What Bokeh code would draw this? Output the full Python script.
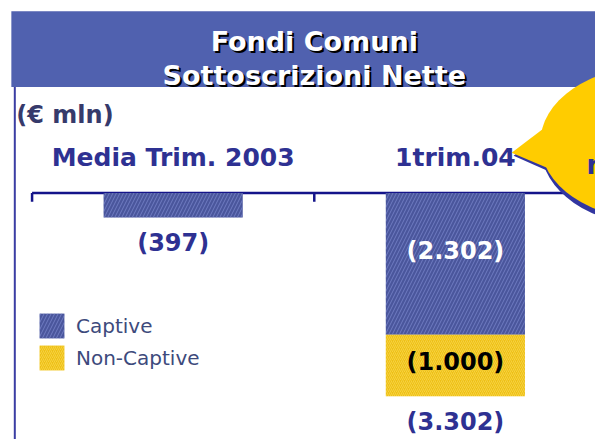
from bokeh.plotting import figure
from bokeh.models import Range1d, Legend, LegendItem
from bokeh.core.properties import value
from bokeh.embed import file_html
from bokeh.resources import INLINE

# ---------------- data ----------------
categories = ["Media Trim. 2003", "1trim.04"]
captive = [-397, -2302]
non_captive = [0, -1000]
captive_labels = ["", "(2.302)"]
non_captive_labels = ["", "(1.000)"]
total_labels = ["(397)", "(3.302)"]
series_names = ["Captive", "Non-Captive"]
title_lines = ["Fondi Comuni", "Sottoscrizioni Nette"]
unit_label = "(€ mln)"
bubble_text = "n"

# ---------------- geometry helpers (reference pixel -> data) ----------------
W, H = 595, 439
PX_PER_CAT = 286.0
UNITS_PER_PX = 15.95


def X(rx):
    return (rx - 32) / PX_PER_CAT


def Y(ry):
    return (196 - ry) * UNITS_PER_PX


FONT = value("DejaVu Sans")
BLUE_TXT = "#2E3192"

p = figure(width=W, height=H, x_range=Range1d(X(0), X(603)), y_range=Range1d(Y(447), Y(0)),
           output_backend="svg", toolbar_location=None, min_border=0,
           x_axis_location=None, y_axis_location=None, outline_line_color=None,
           background_fill_color="white", border_fill_color="white")
p.grid.visible = False

# title bar
p.quad(left=[X(11)], right=[X(612)], top=[Y(11)], bottom=[Y(88)],
       fill_color="#5061AF", line_color=None)
tx = [X(318)] * len(title_lines)
ty = [Y(42), Y(76)]
p.text(x=tx, y=ty, text=title_lines, x_offset=2, y_offset=2, text_color="black",
       text_font=FONT, text_font_style="bold", text_font_size="27px",
       text_align="center", text_baseline="alphabetic")
p.text(x=tx, y=ty, text=title_lines, text_color="white",
       text_font=FONT, text_font_style="bold", text_font_size="27px",
       text_align="center", text_baseline="alphabetic")

# left frame line
p.segment(x0=[X(14.5)], y0=[Y(88)], x1=[X(14.5)], y1=[Y(460)],
          line_color="#3B3EA3", line_width=2)

# unit label
p.text(x=[X(16)], y=[Y(117)], text=[unit_label], text_color="#363A6B",
       text_font=FONT, text_font_style="bold", text_font_size="24px",
       text_align="left", text_baseline="alphabetic")

# category labels
xs = [i + 0.5 for i in range(len(categories))]
p.text(x=xs, y=[Y(160)] * len(categories), text=categories, text_color=BLUE_TXT,
       text_font=FONT, text_font_style="bold", text_font_size="25px",
       text_align="center", text_baseline="alphabetic")

# axis line and ticks
n = len(categories)
p.segment(x0=[0], y0=[0], x1=[n], y1=[0], line_color="#14148A", line_width=2.5)
ticks = list(range(n + 1))
p.segment(x0=ticks, y0=[0] * len(ticks), x1=ticks, y1=[Y(205)] * len(ticks),
          line_color="#14148A", line_width=2.5)

# bars
bar_w = 0.493
cap_bottom = captive
non_top = captive
non_bottom = [c + nc for c, nc in zip(captive, non_captive)]
r_cap = p.vbar(x=xs, width=bar_w, top=[0] * n, bottom=cap_bottom,
               fill_color="#4A569C", line_color=None,
               hatch_pattern="/", hatch_color="#7D8AD0", hatch_alpha=0.7,
               hatch_scale=7, hatch_weight=1)
r_non = p.vbar(x=xs, width=bar_w, top=non_top, bottom=non_bottom,
               fill_color="#EEC016", line_color=None,
               hatch_pattern="/", hatch_color="#FFE46A", hatch_alpha=0.5,
               hatch_scale=4, hatch_weight=1)

# value labels
p.text(x=xs, y=[c / 2 for c in captive], text=captive_labels, y_offset=-13,
       text_color="white", text_font=FONT, text_font_style="bold", text_font_size="24px",
       text_align="center", text_baseline="middle")
p.text(x=xs, y=[c + nc / 2 for c, nc in zip(captive, non_captive)], text=non_captive_labels,
       y_offset=-4, text_color="black", text_font=FONT, text_font_style="bold",
       text_font_size="24px", text_align="center", text_baseline="middle")
p.text(x=xs, y=non_bottom, text=total_labels, y_offset=26,
       text_color=BLUE_TXT, text_font=FONT, text_font_style="bold", text_font_size="24px",
       text_align="center", text_baseline="middle")

# speech bubble (decoration, partly cut off at right)
ew = 226 / PX_PER_CAT
eh = 156 * UNITS_PER_PX
p.ellipse(x=[X(661)], y=[Y(151)], width=ew, height=eh, fill_color="#3236A0", line_color=None)
p.patch(x=[X(520), X(556), X(560)], y=[Y(158), Y(130), Y(176)],
        fill_color="#3236A0", line_color=None)
p.ellipse(x=[X(660)], y=[Y(145)], width=ew, height=eh, fill_color="#FFCC00", line_color=None)
p.patch(x=[X(518), X(556), X(558)], y=[Y(155), Y(126), Y(172)],
        fill_color="#FFCC00", line_color=None)
p.text(x=[X(594)], y=[Y(167)], text=[bubble_text], text_color=BLUE_TXT,
       text_font=FONT, text_font_style="bold", text_font_size="26px",
       text_align="left", text_baseline="middle")

# legend
legend = Legend(items=[LegendItem(label=series_names[0], renderers=[r_cap]),
                       LegendItem(label=series_names[1], renderers=[r_non])],
                location=(36, 66), orientation="vertical",
                glyph_width=31, glyph_height=31, label_height=31, spacing=1,
                padding=0, margin=0, label_standoff=9,
                label_text_font="DejaVu Sans", label_text_font_size="20px",
                label_text_color="#3D4A7C", label_text_baseline="middle",
                border_line_color=None, background_fill_alpha=0)
p.add_layout(legend)

open("out.html", "w").write(file_html(p, INLINE))
